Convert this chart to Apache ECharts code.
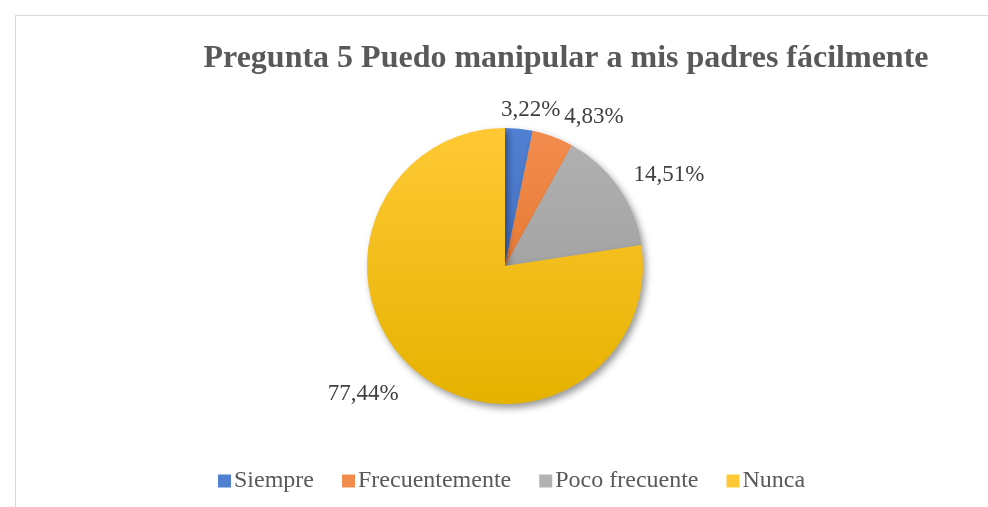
<!DOCTYPE html>
<html>
<head>
    <meta charset="utf-8">
    <title>Pregunta 5</title>
    <style>
        * { margin: 0; padding: 0; }
        #main { width: 988px; height: 507px; background: #fff; }
    </style>
    <script src="https://cdn.jsdelivr.net/npm/echarts@6/dist/echarts.min.js"></script>
</head>
<body>
    <div id="main"></div>
    <script type="text/javascript">
        // datos
        const categorias = ['Siempre', 'Frecuentemente', 'Poco frecuente', 'Nunca'];
        const porcentajes = [3.22, 4.83, 14.51, 77.44];
        const coloresArriba = ['#5080D2', '#F28C4E', '#B2B2B2', '#FFC935'];
        const coloresAbajo = ['#3A66B8', '#E06A1E', '#969696', '#E6B200'];

        const cx = 505, cy = 266, r = 138;
        // pequeños ajustes de posición de las etiquetas (como en Excel)
        const ajusteEtiquetas = [[-24, -9], [-25, -27], [7, -6], [-5, 16]];

        function degradado(i) {
            return {
                type: 'linear', x: 0, y: cy - r, x2: 0, y2: cy + r, global: true,
                colorStops: [
                    { offset: 0, color: coloresArriba[i] },
                    { offset: 1, color: coloresAbajo[i] }
                ]
            };
        }

        const chart = echarts.init(document.getElementById('main'));
        const fuente = '"Liberation Serif", "Times New Roman", serif';

        chart.setOption({
            animation: false,
            title: {
                text: 'Pregunta 5 Puedo manipular a mis padres fácilmente',
                left: 561, textAlign: 'center', top: 38,
                textStyle: { fontFamily: fuente, fontSize: 32, fontWeight: 'bold', color: '#595959' }
            },
            legend: {
                data: categorias,
                top: 464, left: 213,
                itemWidth: 13, itemHeight: 13, itemGap: 28,
                icon: 'rect',
                textStyle: { fontFamily: fuente, fontSize: 24, color: '#595959', padding: [0, 0, 0, -2] }
            },
            graphic: [
                { type: 'line', shape: { x1: 15, y1: 15.5, x2: 988, y2: 15.5 }, style: { stroke: '#d9d9d9', lineWidth: 1 } },
                { type: 'line', shape: { x1: 15.5, y1: 15, x2: 15.5, y2: 507 }, style: { stroke: '#d9d9d9', lineWidth: 1 } }
            ],
            series: [{
                type: 'pie',
                center: [cx, cy],
                radius: r,
                startAngle: 90,
                clockwise: true,
                itemStyle: {
                    shadowBlur: 7, shadowOffsetX: 3, shadowOffsetY: 4,
                    shadowColor: 'rgba(0,0,0,0.4)'
                },
                label: {
                    show: true,
                    position: 'outside',
                    formatter: p => p.value.toFixed(2).replace('.', ',') + '%',
                    fontFamily: fuente, fontSize: 23, color: '#404040'
                },
                labelLine: { show: false, length: 10, length2: 0 },
                labelLayout: p => ({ dx: ajusteEtiquetas[p.dataIndex][0], dy: ajusteEtiquetas[p.dataIndex][1] }),
                data: categorias.map((c, i) => ({
                    name: c, value: porcentajes[i],
                    itemStyle: { color: degradado(i) }
                }))
            }]
        });
    </script>
</body>
</html>
